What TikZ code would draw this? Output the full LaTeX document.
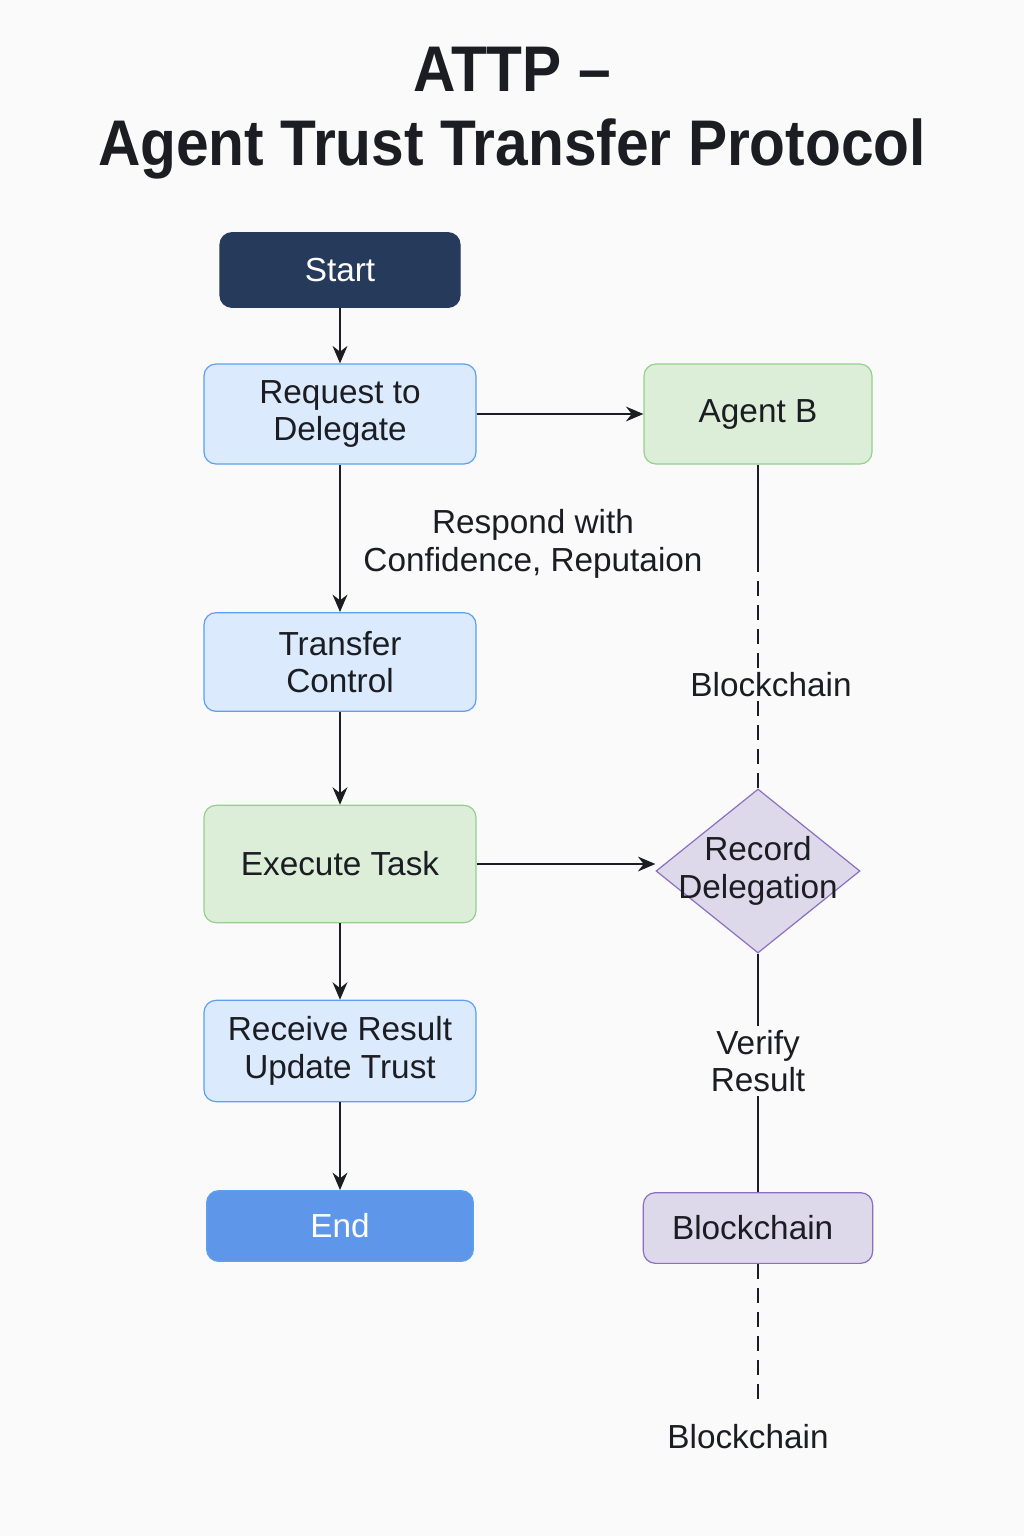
\documentclass[tikz,border=0pt]{standalone}
\usepackage{fontspec}
\usepackage{graphicx}
\setmainfont{Liberation Sans}
\usetikzlibrary{shapes.geometric}
\usetikzlibrary{arrows.meta}
\definecolor{pagebg}{HTML}{FAFAFA}
\definecolor{navy}{HTML}{263A5B}
\definecolor{bluefill}{HTML}{DCEAFD}
\definecolor{blueline}{HTML}{5EA0EF}
\definecolor{greenfill}{HTML}{DCEDD8}
\definecolor{greenline}{HTML}{95D08E}
\definecolor{purplefill}{HTML}{DED8EB}
\definecolor{purpleline}{HTML}{8B6FC1}
\definecolor{endfill}{HTML}{5E97EA}
\definecolor{ink}{HTML}{1B1D22}

\begin{document}
\begin{tikzpicture}[x=0.75pt, y=-0.75pt,
  every node/.style={font=\fontsize{25}{28}\selectfont, align=center, text=ink},
  box/.style={draw, rounded corners=9pt, line width=0.9pt, minimum width=204pt, minimum height=75pt},
  bluebox/.style={box, fill=bluefill, draw=blueline},
  greenbox/.style={box, fill=greenfill, draw=greenline},
  purplebox/.style={box, fill=purplefill, draw=purpleline},
  lbl/.style={fill=pagebg, inner sep=3pt},
  flow/.style={-{Stealth[length=13pt, width=11pt]}, line width=2pt, ink},
  link/.style={line width=2pt, ink},
  dashlink/.style={line width=2pt, ink, dash pattern=on 11pt off 7pt}]
\fill[pagebg] (0,0) rectangle (1024,1536);
\useasboundingbox (0,0) rectangle (1024,1536);
% title
\node[font=\fontsize{44}{56}\selectfont\bfseries] (title) at (512,113)
  {\scalebox{1}[1.1]{ATTP --}\\\scalebox{1}[1.1]{Agent Trust Transfer Protocol}};
% left column
\node[box, fill=navy, draw=navy, text=white, minimum width=180pt, minimum height=56pt] (start) at (340,270) {Start};
\node[bluebox] (request) at (340,414) {Request to\\Delegate};
\node[bluebox, minimum height=74pt] (transfer) at (340,662) {Transfer\\Control};
\node[greenbox, minimum height=88pt] (execute) at (340,864) {Execute Task};
\node[bluebox, minimum height=76pt] (receive) at (340,1051) {Receive Result\\Update Trust};
\node[box, fill=endfill, draw=blueline, text=white, minimum width=200pt, minimum height=53pt] (end) at (340,1226) {End};
% right column
\node[greenbox, minimum width=171pt] (agentb) at (758,414) {Agent B};
\node[draw=purpleline, fill=purplefill, line width=0.9pt, diamond, minimum width=153pt, minimum height=123pt, inner sep=0pt,
  label={center:{Record\\Delegation}}] (record) at (758,871) {};
\node[purplebox, minimum width=172pt, minimum height=53pt] (chainbox) at (758,1228) {\hspace*{-8pt}Blockchain};
\coordinate (agentgap) at (758,557);
\coordinate (chainend) at (758,1407);
% labels
\node (respond) at (533,544) {Respond with\\Confidence, Reputaion};
% arrows
\draw[flow] (start) -- (request);
\draw[flow] (request) -- (transfer);
\draw[flow] (transfer) -- (execute);
\draw[flow] (execute) -- (receive);
\draw[flow] (receive) -- (end);
\draw[flow] (request) -- (agentb);
\draw[flow] (execute) -- (execute -| record.west);
% blockchain links
\draw[link] (agentb) -- (agentgap);
\draw[dashlink] (agentgap) -- (record.north);
\node[lbl] (chainmid) at (771,685) {Blockchain};
\draw[link] (record.south) -- (chainbox) node[lbl, pos=0.45] (verify) {Verify\\Result};
\draw[dashlink] (chainbox) -- (chainend);
\node (chainlow) at (748,1437) {Blockchain};
\end{tikzpicture}
\end{document}
